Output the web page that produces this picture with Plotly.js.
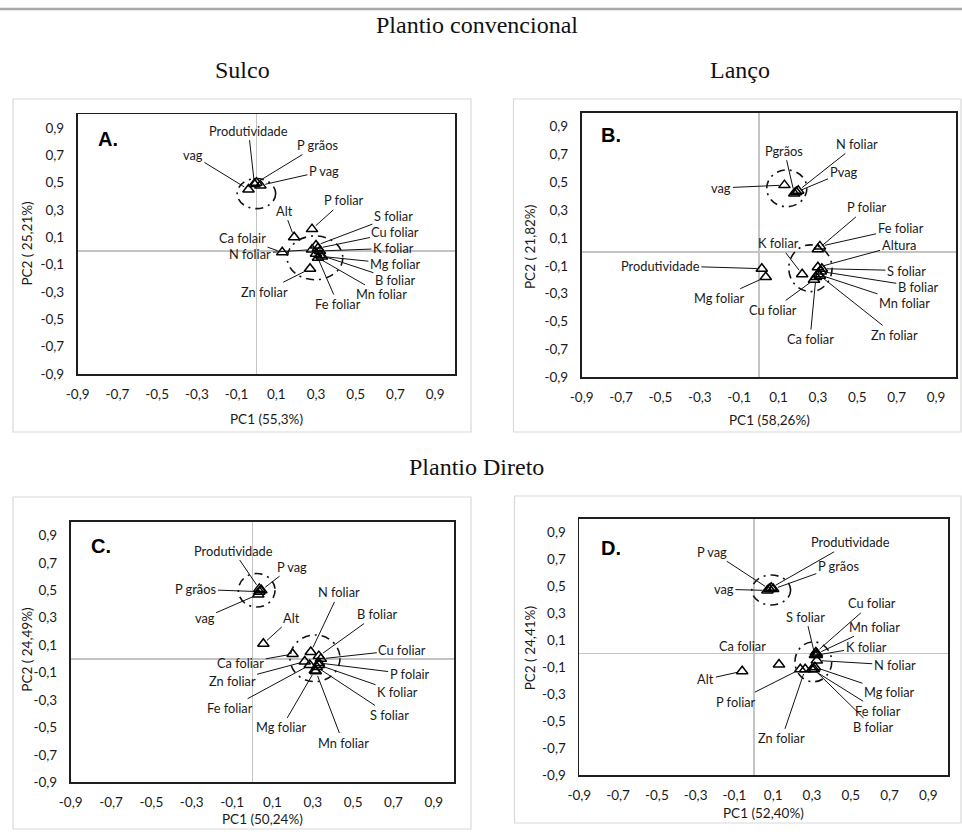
<!DOCTYPE html>
<html><head><meta charset="utf-8">
<script src="https://cdn.plot.ly/plotly-3.0.1.min.js"></script>
<style>html,body{margin:0;padding:0;background:#fff}#chart{width:962px;height:839px}</style>
</head><body><div id="chart"></div>
<script>
// ---------- DATA ----------
const tickVals = [-0.9,-0.7,-0.5,-0.3,-0.1,0.1,0.3,0.5,0.7,0.9];
const tickText = ['-0,9','-0,7','-0,5','-0,3','-0,1','0,1','0,3','0,5','0,7','0,9'];

// Panel A - Plantio convencional, Sulco
const namesA = ["Produtividade","P grãos","P vag","vag","Alt","P foliar","Ca folair","N foliar","S foliar","Cu foliar","K foliar","Mg foliar","B foliar","Mn foliar","Fe foliar","Zn foliar"];
const pc1A = [-0.01, 0.00, 0.02, -0.04, 0.19, 0.28, 0.13, 0.28, 0.30, 0.31, 0.32, 0.33, 0.32, 0.31, 0.30, 0.27];
const pc2A = [0.49, 0.50, 0.48, 0.45, 0.10, 0.16, -0.01, 0.01, 0.04, 0.02, 0.00, -0.04, -0.03, -0.05, -0.02, -0.13];
const ellA = [[0.0, 0.42, 0.097, 0.11], [0.295, -0.05, 0.14, 0.16]];

// Panel B - Plantio convencional, Lanço
const namesB = ["vag","Pgrãos","Pvag","N foliar","Produtividade","Mg foliar","K foliar","P foliar","Fe foliar","Altura","S foliar","B foliar","Mn foliar","Zn foliar","Cu foliar","Ca foliar"];
const pc1B = [0.13, 0.18, 0.19, 0.20, 0.015, 0.035, 0.22, 0.30, 0.31, 0.30, 0.32, 0.315, 0.30, 0.31, 0.28, 0.29];
const pc2B = [0.48, 0.42, 0.43, 0.44, -0.12, -0.18, -0.16, 0.02, 0.04, -0.11, -0.12, -0.14, -0.16, -0.17, -0.20, -0.18];
const ellB = [[0.142, 0.457, 0.102, 0.132], [0.262, -0.117, 0.11, 0.168]];

// Panel C - Plantio Direto, Sulco
const namesC = ["Produtividade","P vag","P grãos","vag","Alt","N foliar","B foliar","Cu foliar","P folair","K foliar","S foliar","Mn foliar","Mg foliar","Fe foliar","Zn foliar","Ca foliar"];
const pc1C = [0.035, 0.045, 0.035, 0.03, 0.055, 0.29, 0.33, 0.34, 0.33, 0.33, 0.32, 0.315, 0.31, 0.285, 0.26, 0.20];
const pc2C = [0.51, 0.50, 0.49, 0.47, 0.11, 0.05, 0.02, 0.00, -0.03, -0.045, -0.06, -0.09, -0.085, -0.045, -0.02, 0.035];
const ellC = [[0.022, 0.50, 0.091, 0.122], [0.311, 0.004, 0.124, 0.17]];

// Panel D - Plantio Direto, Lanço
const namesD = ["Produtividade","P grãos","P vag","vag","Cu foliar","S foliar","Mn foliar","K foliar","N foliar","Mg foliar","Fe foliar","B foliar","Zn foliar","P foliar","Alt","Ca foliar"];
const pc1D = [0.09, 0.10, 0.08, 0.07, 0.32, 0.315, 0.325, 0.325, 0.325, 0.315, 0.30, 0.31, 0.265, 0.24, -0.06, 0.13];
const pc2D = [0.49, 0.48, 0.48, 0.47, 0.01, -0.01, 0.00, -0.01, -0.05, -0.10, -0.115, -0.115, -0.115, -0.115, -0.13, -0.08];
const ellD = [[0.09, 0.473, 0.10, 0.111], [0.307, -0.06, 0.095, 0.148]];

// ---------- LAYOUT (label placement, in axis units) ----------
const labXA = [-0.04, 0.31, 0.34, -0.32, 0.14, 0.44, -0.07, -0.03, 0.69, 0.70, 0.69, 0.70, 0.70, 0.63, 0.41, 0.04];
const labYA = [0.88, 0.775, 0.585, 0.70, 0.295, 0.37, 0.093, -0.02, 0.255, 0.137, 0.02, -0.095, -0.212, -0.318, -0.388, -0.298];
const labXB = [-0.19, 0.13, 0.43, 0.50, -0.50, -0.20, 0.10, 0.55, 0.72, 0.71, 0.75, 0.81, 0.74, 0.69, 0.07, 0.26];
const labYB = [0.46, 0.727, 0.572, 0.775, -0.098, -0.332, 0.062, 0.32, 0.17, 0.048, -0.134, -0.25, -0.365, -0.596, -0.416, -0.625];
const labXC = [-0.094, 0.196, -0.279, -0.236, 0.196, 0.43, 0.62, 0.744, 0.78, 0.72, 0.68, 0.45, 0.146, -0.11, -0.10, -0.057];
const labYC = [0.789, 0.672, 0.507, 0.30, 0.30, 0.485, 0.327, 0.065, -0.112, -0.244, -0.409, -0.61, -0.50, -0.36, -0.161, -0.032];
const labXD = [0.50, 0.436, -0.214, -0.154, 0.608, 0.268, 0.621, 0.579, 0.727, 0.70, 0.642, 0.616, 0.144, -0.092, -0.247, -0.057];
const labYD = [0.827, 0.653, 0.757, 0.478, 0.374, 0.275, 0.20, 0.052, -0.084, -0.287, -0.423, -0.547, -0.628, -0.356, -0.19, 0.06];
const leaderD = [1,1,1,1,1,1,1,1,1,1,1,1,1,1,1,0];

const W = 962, H = 839;
const PX = v => v / W, PY = v => 1 - v / H;
const labelFont = {family:'Lato, "Open Sans", sans-serif', size:12.8, color:'#1a1a1a'};
const tickFont = {family:'Lato, "Open Sans", sans-serif', size:13.5, color:'#1a1a1a'};
const titleFont = {family:'Lato, "Open Sans", sans-serif', size:13.5, color:'#1a1a1a'};
const serif = {family:'"Liberation Serif", "DejaVu Serif", serif', size:24, color:'#111'};

const panels = [
  {n:namesA,x:pc1A,y:pc2A,lx:labXA,ly:labYA,ell:ellA,lead:null,letter:'A.',let:[108,139],
   box:[77.7,455,114.3,374],outer:[13,471,99,432],xt:'PC1 (55,3%)',yt:'PC2 ( 25,21%)',xtp:[266.7,419.3],ytp:[27.3,243.3]},
  {n:namesB,x:pc1B,y:pc2B,lx:labXB,ly:labYB,ell:ellB,lead:null,letter:'B.',let:[611,135],
   box:[581.7,955.7,112.7,377.3],outer:[513.5,961,99,432],xt:'PC1 (58,26%)',yt:'PC2 ( 21,82%)',xtp:[769.3,420],ytp:[529.3,246.7]},
  {n:namesC,x:pc1C,y:pc2C,lx:labXC,ly:labYC,ell:ellC,lead:null,letter:'C.',let:[101,546],
   box:[70.7,454,521.7,782.3],outer:[13,471,497,829],xt:'PC1 (50,24%)',yt:'PC2 ( 24,49%)',xtp:[262.3,819],ytp:[26.7,650]},
  {n:namesD,x:pc1D,y:pc2D,lx:labXD,ly:labYD,ell:ellD,lead:leaderD,letter:'D.',let:[611,547.7],
   box:[579.3,947.7,519,775],outer:[514.5,961,496,823],xt:'PC1 (52,40%)',yt:'PC2 ( 24,41%)',xtp:[763.3,813],ytp:[530,648.3]}
];

const data = [], annotations = [], shapes = [];
const layout = {
  width:W, height:H, margin:{l:0,r:0,t:0,b:0}, paper_bgcolor:'#fff', plot_bgcolor:'rgba(0,0,0,0)',
  showlegend:false, annotations, shapes
};

// top rule
shapes.push({type:'line', xref:'paper', yref:'paper', x0:0, x1:1, y0:PY(9), y1:PY(9), line:{color:'#a8a8a8', width:2.5}});
// section titles
[['Plantio convencional',476.5,25],['Sulco',242.5,70],['Lanço',740,70],['Plantio Direto',476.7,467]].forEach(t=>{
  annotations.push({text:t[0], xref:'paper', yref:'paper', x:PX(t[1]), y:PY(t[2]), xanchor:'center', yanchor:'middle', showarrow:false, font:serif});
});

panels.forEach((p, k) => {
  const sfx = k === 0 ? '' : String(k + 1);
  const xa = 'x' + sfx, ya = 'y' + sfx;
  const axCommon = {range:[-0.9,1.0], tickmode:'array', tickvals:tickVals, ticktext:tickText, showgrid:false,
    zeroline:true, zerolinecolor:'#c4c4c4', zerolinewidth:1.5, showline:true, mirror:true, linecolor:'#1e1e1e', linewidth:1.8,
    ticks:'', tickfont:tickFont, fixedrange:true};
  layout['xaxis' + sfx] = Object.assign({}, axCommon, {domain:[PX(p.box[0]), PX(p.box[1])], anchor:ya, ticklabelstandoff:7});
  layout['yaxis' + sfx] = Object.assign({}, axCommon, {domain:[PY(p.box[3]), PY(p.box[2])], anchor:xa, ticklabelstandoff:9});

  // outer chart-area frame
  shapes.push({type:'rect', xref:'paper', yref:'paper', x0:PX(p.outer[0]), x1:PX(p.outer[1]), y0:PY(p.outer[3]), y1:PY(p.outer[2]),
    line:{color:'#d9d9d9', width:1.2}, fillcolor:'rgba(0,0,0,0)', layer:'below'});

  // cluster ellipses
  p.ell.forEach(e => {
    shapes.push({type:'circle', xref:xa, yref:ya, x0:e[0]-e[2], x1:e[0]+e[2], y0:e[1]-e[3], y1:e[1]+e[3],
      line:{color:'#111', width:1.6, dash:'8px,5px,2px,5px'}, layer:'above'});
  });

  // points
  data.push({type:'scatter', mode:'markers', x:p.x, y:p.y, xaxis:xa, yaxis:ya, text:p.n, hoverinfo:'text',
    marker:{symbol:'triangle-up-open', size:10, color:'#000', line:{width:1.5, color:'#000'}}, cliponaxis:false});

  // labels with leader lines
  p.n.forEach((name, i) => {
    const hasLead = p.lead ? !!p.lead[i] : true;
    if (hasLead) {
      annotations.push({text:name, x:p.x[i], y:p.y[i], xref:xa, yref:ya, ax:p.lx[i], ay:p.ly[i], axref:xa, ayref:ya,
        showarrow:true, arrowhead:0, arrowwidth:1, arrowcolor:'#111', standoff:5, font:labelFont});
    } else {
      annotations.push({text:name, x:p.lx[i], y:p.ly[i], xref:xa, yref:ya, showarrow:false, font:labelFont});
    }
  });

  // panel letter
  annotations.push({text:'<b>' + p.letter + '</b>', xref:'paper', yref:'paper', x:PX(p.let[0]), y:PY(p.let[1]),
    xanchor:'center', yanchor:'middle', showarrow:false, font:{family:'"Liberation Sans", Arial, sans-serif', size:20, color:'#000'}});
  // axis titles
  annotations.push({text:p.xt, xref:'paper', yref:'paper', x:PX(p.xtp[0]), y:PY(p.xtp[1]), xanchor:'center', yanchor:'middle',
    showarrow:false, font:titleFont});
  annotations.push({text:p.yt, xref:'paper', yref:'paper', x:PX(p.ytp[0]), y:PY(p.ytp[1]), xanchor:'center', yanchor:'middle',
    showarrow:false, textangle:-90, font:titleFont});
});

Plotly.newPlot('chart', data, layout, {staticPlot:true, displayModeBar:false});
</script>
</body></html>
